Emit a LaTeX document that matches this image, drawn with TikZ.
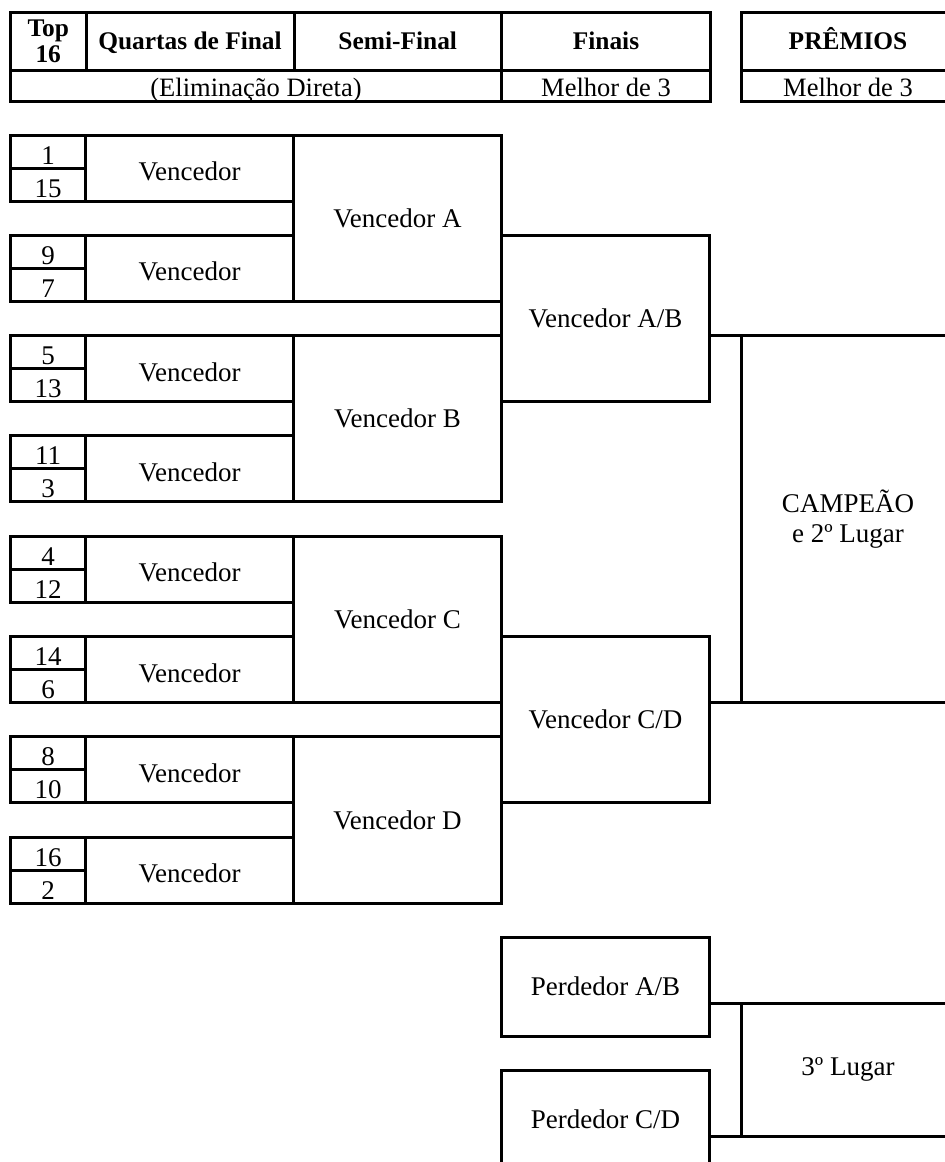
\documentclass[tikz,border=0pt]{standalone}
\usepackage{fontspec}
\setmainfont{Liberation Serif}
\begin{document}
\begin{tikzpicture}[x=1pt,y=-1pt,
  cell/.style={draw, line width=3pt, rectangle, inner sep=0pt, outer sep=0pt, align=center,
    font=\fontsize{27}{30}\selectfont},
  head/.style={cell, font=\fontsize{25.4}{26}\selectfont\bfseries},
  headone/.style={head, text height=17pt, text depth=0pt},
  sub/.style={cell, font=\fontsize{26.5}{30}\selectfont, text height=21pt, text depth=0pt},
  mtext/.style={text height=25pt, text depth=0pt},
  link/.style={line width=3pt}]
\useasboundingbox (0,0) rectangle (945,1162);
\clip (0,0) rectangle (945,1162);
% header
\node[head, minimum width=75.5pt, minimum height=58pt] (h16) at (48.25,41) {Top\\16};
\node[headone, minimum width=208pt, minimum height=58pt] (hq) at (190,41) {Quartas de Final};
\node[headone, minimum width=207.5pt, minimum height=58pt] (hs) at (397.75,41) {Semi-Final};
\node[headone, minimum width=209pt, minimum height=58pt] (hf) at (606,41) {Finais};
\node[headone, minimum width=214pt, minimum height=58pt] (hp) at (848,41) {PRÊMIOS};
\node[sub, minimum width=491pt, minimum height=31pt] (he) at (256,85.5) {(Eliminação Direta)};
\node[sub, minimum width=209pt, minimum height=31pt] (hm1) at (606,85.5) {Melhor de 3};
\node[sub, minimum width=214pt, minimum height=31pt] (hm2) at (848,85.5) {Melhor de 3};
% first round
\foreach \k/\a/\b in {0/1/15,1/9/7,2/5/13,3/11/3,4/4/12,5/14/6,6/8/10,7/16/2} {
  \pgfmathsetmacro{\t}{135+100.3*\k}
  \node[cell, mtext, minimum width=75pt, minimum height=33pt] (na\k) at (48,{\t+16.5}) {\a};
  \node[cell, mtext, minimum width=75pt, minimum height=33pt] (nb\k) at (48,{\t+49.5}) {\b};
  \node[cell, mtext, minimum width=208pt, minimum height=66pt] (w\k) at (189.5,{\t+33}) {Vencedor};
}
% semi-finals
\foreach \j/\L in {0/A,1/B,2/C,3/D} {
  \pgfmathsetmacro{\t}{135+200.6*\j}
  \node[cell, minimum width=208pt, minimum height=166.3pt] (s\L) at (397.5,{\t+83.15}) {Vencedor \L};
}
% finals
\node[cell, minimum width=208pt, minimum height=166.3pt] (fab) at (605.5,318.45) {Vencedor A/B};
\node[cell, minimum width=208pt, minimum height=166.3pt] (fcd) at (605.5,719.65) {Vencedor C/D};
\node[cell, minimum width=214pt, minimum height=366.9pt] (champ) at (848,519.05) {CAMPEÃO\\e 2º Lugar};
\draw[link] (fab.east |- champ.north) -- (champ.north west);
\draw[link] (fcd.east |- champ.south) -- (champ.south west);
% third place
\node[cell, minimum width=208pt, minimum height=99pt] (pab) at (605.5,986.5) {Perdedor A/B};
\node[cell, minimum width=208pt, minimum height=99pt] (pcd) at (605.5,1119.5) {Perdedor C/D};
\node[cell, minimum width=214pt, minimum height=133pt] (third) at (848,1069.5) {3º Lugar};
\draw[link] (pab.east |- third.north) -- (third.north west);
\draw[link] (pcd.east |- third.south) -- (third.south west);
\end{tikzpicture}
\end{document}
